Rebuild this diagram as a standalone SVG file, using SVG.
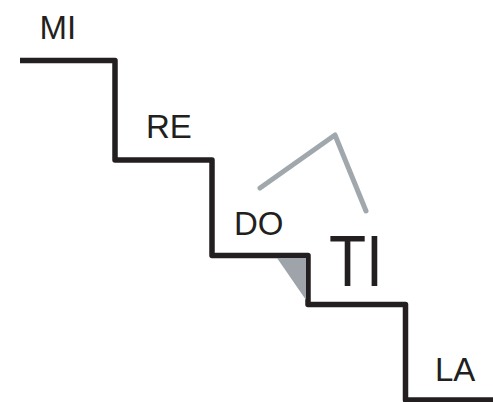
<svg xmlns="http://www.w3.org/2000/svg" width="493" height="402" viewBox="0 0 493 402">
<style>
.lbl{font-family:"Liberation Sans",Arial,sans-serif;fill:#231f20;font-size:33px}
.stair{fill:none;stroke:#231f20;stroke-width:5.5;stroke-linejoin:round}
.grey{fill:none;stroke:#a1a8ad;stroke-width:5;stroke-linecap:round;stroke-linejoin:round}
</style>
<rect width="493" height="402" fill="#fff"/>
<g id="stairs">
<path class="stair" d="M20,60.5 H115 V160 H212 V255.5 H308 V304.5 H405.5 V400 H493"/>
</g>
<g id="wedge"><polygon points="277,258 306,258 306,300" fill="#9ea4a9"/></g>
<g id="arc"><polyline class="grey" points="260,188 335,135 366,211"/></g>
<g id="mi"><text class="lbl" x="39.5" y="39">MI</text></g>
<g id="re"><text class="lbl" x="146" y="138">RE</text></g>
<g id="do"><text class="lbl" x="234" y="234.5">DO</text></g>
<g id="ti"><text class="lbl" x="329" y="286" style="font-size:73px" textLength="54" lengthAdjust="spacingAndGlyphs">TI</text></g>
<g id="la"><text class="lbl" x="435" y="381">LA</text></g>
</svg>
